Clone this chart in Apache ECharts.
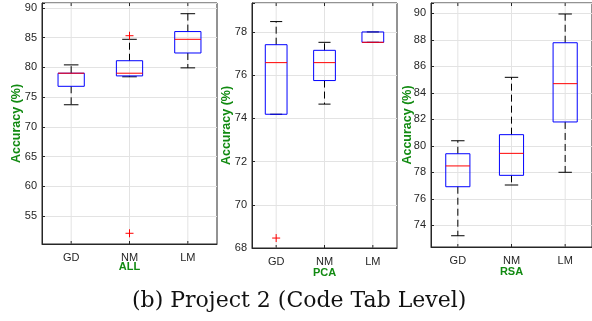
<!DOCTYPE html>
<html>
<head>
<meta charset="utf-8">
<script src="https://cdn.jsdelivr.net/npm/echarts@6/dist/echarts.min.js"></script>
<style>
html,body{margin:0;padding:0;background:#fff;}
#c{width:592px;height:321px;}
</style>
</head>
<body>
<div id="c"></div>
<script>
const categories = ['GD', 'NM', 'LM'];
// [min, q1, median, q3, max]
const allStats = [[73.7, 76.8, 79.0, 79.0, 80.4], [78.4, 78.55, 79.0, 81.1, 84.7], [79.9, 82.4, 84.7, 86.0, 89.0]];
const allOutliers = [[1, 85.3], [1, 52.1]];
const pcaStats = [[74.19, 74.19, 76.58, 77.41, 78.48], [74.66, 75.75, 76.58, 77.15, 77.52], [77.52, 77.52, 77.52, 78.0, 78.0]];
const pcaOutliers = [[0, 68.46]];
const rsaStats = [[73.21, 76.91, 78.48, 79.4, 80.38], [77.04, 77.77, 79.43, 80.84, 85.17], [78.0, 81.8, 84.69, 87.78, 89.95]];
const rsaOutliers = [];
const panelNames = ['ALL', 'PCA', 'RSA'];
const yMins = [50.3, 68.0, 72.36];
const yMaxs = [90.8, 79.34, 90.78];
const yIntervals = [5, 2, 2];
const caption = '(b) Project 2 (Code Tab Level)';

const AX = '#262626';
const GREEN = '#118a11';
const FONT = '"Liberation Sans", Arial, sans-serif';

const grids = [
  {left: 42, top: 3, width: 175, height: 241},
  {left: 252, top: 3, width: 145, height: 245},
  {left: 431, top: 3, width: 164, height: 244}
];
const nameGaps = [19, 19, 17];
const xNameGaps = [17, 19, 19];

function boxItem(params, api) {
  const x = api.value(0);
  const cs = params.coordSys;
  const band = api.size([1, 0])[0];
  const bw = band * 0.45;
  const cw = band * 0.25;
  const pMin = api.coord([x, api.value(1)]);
  const pQ1 = api.coord([x, api.value(2)]);
  const pMed = api.coord([x, api.value(3)]);
  const pQ3 = api.coord([x, api.value(4)]);
  const pMax = api.coord([x, api.value(5)]);
  const cx = pMed[0];
  const children = [];
  children.push({type: 'line', shape: {x1: cx, y1: cs.y, x2: cx, y2: cs.y + cs.height},
    style: {stroke: '#e3e3e3', lineWidth: 1}, z2: 0});
  children.push({type: 'line', shape: {x1: cx, y1: cs.y, x2: cx, y2: cs.y + 3}, style: {stroke: AX, lineWidth: 1}, z2: 1});
  children.push({type: 'line', shape: {x1: cx, y1: cs.y + cs.height, x2: cx, y2: cs.y + cs.height - 3}, style: {stroke: AX, lineWidth: 1}, z2: 1});
  children.push({type: 'line', shape: {x1: cx, y1: pQ3[1], x2: cx, y2: pMax[1]},
    style: {stroke: '#000', lineWidth: 1, lineDash: [7, 4]}, z2: 2});
  children.push({type: 'line', shape: {x1: cx, y1: pQ1[1], x2: cx, y2: pMin[1]},
    style: {stroke: '#000', lineWidth: 1, lineDash: [7, 4]}, z2: 2});
  children.push({type: 'line', shape: {x1: cx - cw / 2, y1: pMax[1], x2: cx + cw / 2, y2: pMax[1]},
    style: {stroke: '#000', lineWidth: 1}, z2: 3});
  children.push({type: 'line', shape: {x1: cx - cw / 2, y1: pMin[1], x2: cx + cw / 2, y2: pMin[1]},
    style: {stroke: '#000', lineWidth: 1}, z2: 3});
  children.push({type: 'rect', shape: {x: cx - bw / 2, y: pQ3[1], width: bw, height: pQ1[1] - pQ3[1]},
    style: {stroke: '#0000ff', fill: 'rgba(0,0,0,0)', lineWidth: 1}, z2: 4});
  children.push({type: 'line', shape: {x1: cx - bw / 2, y1: pMed[1], x2: cx + bw / 2, y2: pMed[1]},
    style: {stroke: '#ff0000', lineWidth: 1}, z2: 5});
  return {type: 'group', children: children};
}

function outlierItem(params, api) {
  const p = api.coord([api.value(0), api.value(1)]);
  const s = 4;
  return {type: 'group', children: [
    {type: 'line', shape: {x1: p[0] - s, y1: p[1], x2: p[0] + s, y2: p[1]}, style: {stroke: '#ff0000', lineWidth: 1}},
    {type: 'line', shape: {x1: p[0], y1: p[1] - s, x2: p[0], y2: p[1] + s}, style: {stroke: '#ff0000', lineWidth: 1}}
  ]};
}

const statsList = [allStats, pcaStats, rsaStats];
const outList = [allOutliers, pcaOutliers, rsaOutliers];

const option = {
  animation: false,
  backgroundColor: '#fff',
  grid: grids.map(g => Object.assign({show: true, borderColor: AX, borderWidth: 1, backgroundColor: 'transparent'}, g)),
  xAxis: [0, 1, 2].map(i => ({
    type: 'category', gridIndex: i, data: categories,
    name: panelNames[i], nameLocation: 'middle', nameGap: xNameGaps[i], nameMoveOverlap: false,
    nameTextStyle: {color: GREEN, fontWeight: 'bold', fontSize: 11, fontFamily: FONT},
    axisLine: {lineStyle: {color: AX}},
    axisTick: {show: false},
    axisLabel: {color: AX, fontSize: 11, fontFamily: FONT, margin: 8},
    splitLine: {show: false}
  })),
  yAxis: [0, 1, 2].map(i => ({
    type: 'value', gridIndex: i, min: yMins[i], max: yMaxs[i],
    minInterval: yIntervals[i], maxInterval: yIntervals[i],
    name: 'Accuracy (%)', nameLocation: 'middle', nameGap: nameGaps[i], nameRotate: 90, nameMoveOverlap: false,
    nameTextStyle: {color: GREEN, fontWeight: 'bold', fontSize: 12.5, fontFamily: FONT},
    axisLine: {show: true, lineStyle: {color: AX}},
    axisTick: {show: true, inside: true, length: 3, lineStyle: {color: AX}},
    axisLabel: {color: AX, fontSize: 11, fontFamily: FONT, margin: 5,
      formatter: v => (Math.abs(v / yIntervals[i] - Math.round(v / yIntervals[i])) < 1e-6 ? String(Math.round(v)) : '')},
    splitLine: {show: true, lineStyle: {color: '#e3e3e3', width: 1}}
  })),
  series: [],
  graphic: [{
    type: 'text', left: 132, top: 290,
    style: {text: caption, font: '22px "DejaVu Serif", serif', fill: '#111'}
  }]
};

[0, 1, 2].forEach(i => {
  option.series.push({
    type: 'custom', xAxisIndex: i, yAxisIndex: i, renderItem: boxItem, clip: false,
    data: statsList[i].map((s, k) => [k].concat(s))
  });
  option.series.push({
    type: 'custom', xAxisIndex: i, yAxisIndex: i, renderItem: outlierItem, z: 5,
    data: outList[i]
  });
});

const chart = echarts.init(document.getElementById('c'), null, {renderer: 'canvas'});
chart.setOption(option);
</script>
</body>
</html>
